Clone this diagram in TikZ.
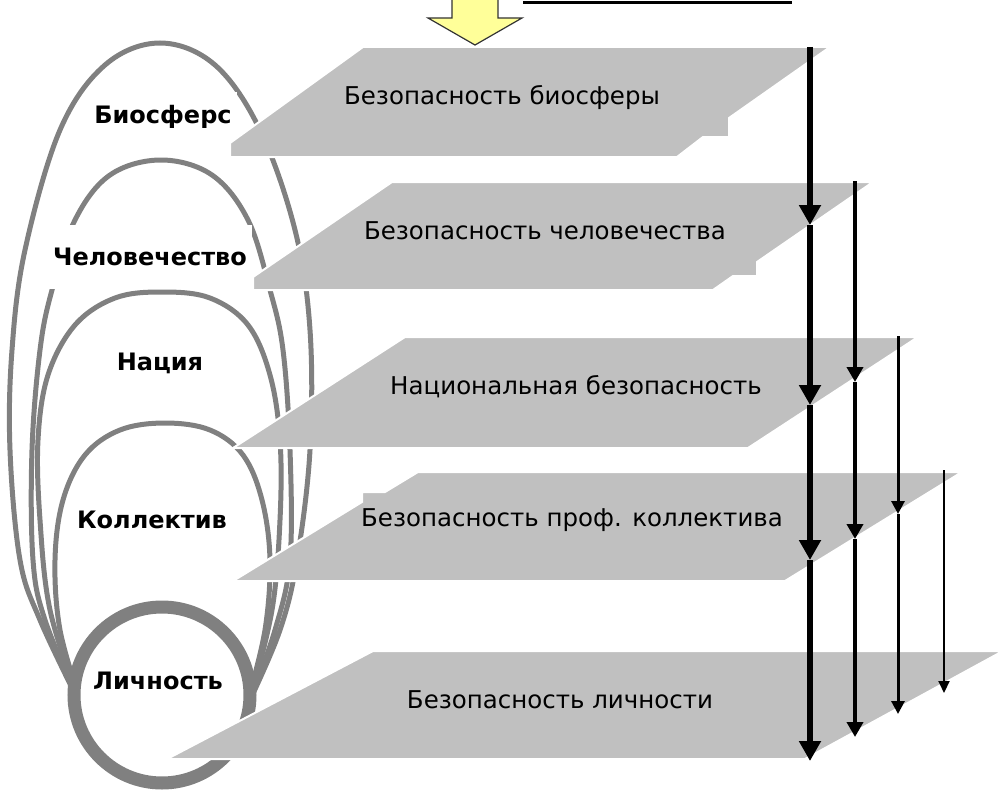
\documentclass[tikz,border=0pt]{standalone}
\usepackage{fontspec}
\setmainfont{DejaVu Sans}
\usetikzlibrary{arrows.meta}
\definecolor{planegray}{RGB}{192,192,192}
\definecolor{loopgray}{RGB}{128,128,128}
\definecolor{arrowyellow}{RGB}{255,255,153}
\begin{document}
\begin{tikzpicture}[x=1pt,y=-1pt,
  plane/.style={fill=planegray, draw=white, line width=2pt},
  loopline/.style={draw=loopgray, line width=5pt, line cap=round},
  lbl/.style={fill=white, inner xsep=5pt, inner ysep=0pt, minimum height=64pt, font=\fontsize{24}{28}\bfseries\selectfont},
  lblbare/.style={lbl, fill=none},
  ptext/.style={font=\fontsize{24.5}{28}\selectfont, inner sep=0pt},
  arrA/.style={line width=6pt, -{Triangle[width=21pt,length=20pt]}},
  arrB/.style={line width=4.5pt, -{Triangle[width=16pt,length=15pt]}},
  arrC/.style={line width=3pt, -{Triangle[width=13pt,length=13pt]}},
  arrD/.style={line width=2pt, -{Triangle[width=11pt,length=12pt]}}]
\useasboundingbox (0,0) rectangle (1004,792);

% nested loops
\draw[loopline] plot[smooth, tension=0.6] coordinates {(78,700) (40,620) (20,560) (10,450) (12,350) (25,250) (60,130) (105,65) (160,43) (215,65) (260,130) (295,230) (310,330) (310,450) (297,560) (280,630) (250,700)};
\draw[loopline] plot[smooth, tension=0.6] coordinates {(78,700) (45,620) (33,560) (32,450) (40,350) (52,290) (75,220) (110,175) (161,160) (212,175) (248,220) (270,290) (283,350) (290,450) (290,560) (275,630) (250,700)};
\draw[loopline] plot[smooth, tension=0.6] coordinates {(78,700) (50,610) (40,520) (38,440) (48,375) (75,325) (115,298) (162,292) (210,298) (248,325) (270,375) (280,440) (280,520) (272,610) (250,700)};
\draw[loopline] plot[smooth, tension=0.6] coordinates {(80,700) (60,630) (55,560) (63,500) (85,455) (120,430) (165,423) (210,430) (243,455) (262,500) (270,560) (265,630) (248,700)};

% inner circle
\draw[draw=loopgray, fill=white, line width=13pt] (162,695) circle[radius=88];

% labels
\node[lbl, minimum height=50pt] (bio) at (163,117) {Биосферс};
\node[lbl] (hum) at (150,257) {Человечество};
\node[lbl] (nat) at (160,363) {Нация};
\node[lbl] (col) at (152,520) {Коллектив};
\node[lblbare] (per) at (158,681) {Личность};

% planes
\filldraw[plane] (230,157) -- (230,143) -- (363,47) -- (830,47) -- (729,118) -- (729,137) -- (703,137) -- (677,157) -- cycle;
\filldraw[plane] (253,290) -- (253,277) -- (392,182) -- (873,182) -- (757,262) -- (757,276) -- (733,276) -- (713,290) -- cycle;
\filldraw[plane] (233,448) -- (405,337) -- (918,337) -- (748,448) -- cycle;
\filldraw[plane] (233,581) -- (362,502) -- (362,492) -- (385,492) -- (418,472) -- (962,472) -- (785,581) -- cycle;
\filldraw[plane] (167,759) -- (373,651) -- (1003,651) -- (805,759) -- cycle;

\node[ptext] (t1) at (502,98) {Безопасность биосферы};
\node[ptext] (t2) at (545,231) {Безопасность человечества};
\node[ptext] (t3) at (576,387) {Национальная безопасность};
\node[ptext] (t4) at (572,520) {Безопасность проф. коллектива};
\node[ptext] (t5) at (560,700) {Безопасность личности};

% yellow input arrow and top line
\filldraw[fill=arrowyellow, draw=black!80, line width=1.2pt, line join=miter] (452,-1) -- (452,18) -- (428,18) -- (475,45) -- (522,18) -- (498,18) -- (498,-1);
\coordinate (l0) at (523,3);
\coordinate (l1) at (792,3);
\draw[line width=3pt] (l0) -- (l1);

% arrow columns
\coordinate (a0) at (810,47);
\coordinate (a1) at (810,225);
\coordinate (a2) at (810,405);
\coordinate (a3) at (810,560);
\coordinate (a4) at (810,761);
\draw[arrA] (a0) -- (a1);
\draw[arrA] (a1) -- (a2);
\draw[arrA] (a2) -- (a3);
\draw[arrA] (a3) -- (a4);

\coordinate (b0) at (855,181);
\coordinate (b1) at (855,382);
\coordinate (b2) at (855,539);
\coordinate (b3) at (855,737);
\draw[arrB] (b0) -- (b1);
\draw[arrB] (b1) -- (b2);
\draw[arrB] (b2) -- (b3);

\coordinate (c0) at (898,336);
\coordinate (c1) at (898,514);
\coordinate (c2) at (898,714);
\draw[arrC] (c0) -- (c1);
\draw[arrC] (c1) -- (c2);

\coordinate (d0) at (944,470);
\coordinate (d1) at (944,693);
\draw[arrD] (d0) -- (d1);
\end{tikzpicture}
\end{document}
